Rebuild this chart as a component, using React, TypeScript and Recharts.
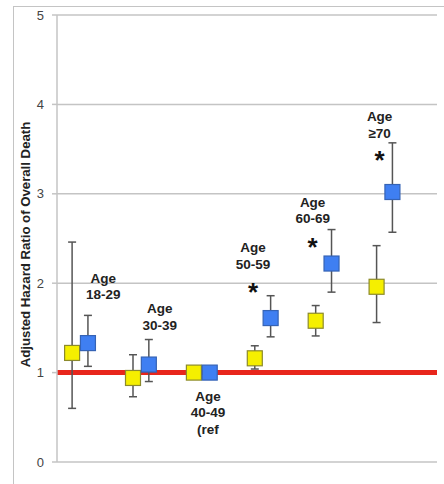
import {
  ComposedChart,
  Scatter,
  ErrorBar,
  XAxis,
  YAxis,
  CartesianGrid,
  ReferenceLine,
  ReferenceDot,
  Label,
} from "recharts";

const groups = ["18-29", "30-39", "40-49", "50-59", "60-69", "≥70"];
const yellowHr = [1.22, 0.94, 1.0, 1.16, 1.58, 1.96];
const yellowLo = [0.6, 0.73, 1.0, 1.04, 1.41, 1.56];
const yellowHi = [2.46, 1.2, 1.0, 1.3, 1.75, 2.42];
const blueHr = [1.33, 1.09, 1.0, 1.61, 2.22, 3.02];
const blueLo = [1.07, 0.9, 1.0, 1.4, 1.9, 2.57];
const blueHi = [1.64, 1.37, 1.0, 1.86, 2.6, 3.57];
const yTicks = [0, 1, 2, 3, 4, 5];

// label anchors (group index, value)
const ageLabels = [
  { x: 1.38, y: 2.06, lines: ["Age", "18-29"] },
  { x: 2.31, y: 1.72, lines: ["Age", "30-39"] },
  { x: 3.1, y: 0.74, lines: ["Age", "40-49", "(ref"] },
  { x: 3.84, y: 2.4, lines: ["Age", "50-59"] },
  { x: 4.82, y: 2.91, lines: ["Age", "60-69"] },
  { x: 5.92, y: 3.87, lines: ["Age", "≥70"] },
];
const stars = [
  { x: 3.84, y: 1.96 },
  { x: 4.82, y: 2.46 },
  { x: 5.92, y: 3.43 },
];

const OFFSET = 0.13;
const font = "'Liberation Sans', Arial, sans-serif";

const yellowData = groups.map((g, i) => ({
  x: i + 1 - OFFSET,
  y: yellowHr[i],
  err: [yellowHr[i] - yellowLo[i], yellowHi[i] - yellowHr[i]],
}));
const blueData = groups.map((g, i) => ({
  x: i + 1 + OFFSET,
  y: blueHr[i],
  err: [blueHr[i] - blueLo[i], blueHi[i] - blueHr[i]],
}));

const square = (fill: string, stroke: string) => (props: any) => {
  const { cx, cy } = props;
  return (
    <rect
      x={cx - 7.5}
      y={cy - 7.5}
      width={15}
      height={15}
      fill={fill}
      stroke={stroke}
      strokeWidth={1.2}
    />
  );
};

export default function App() {
  return (
    <div
      style={{
        position: "absolute",
        left: 0,
        top: 0,
        width: 444,
        height: 484,
        background: "#fff",
        overflow: "hidden",
        fontFamily: font,
      }}
    >
      <div
        style={{
          position: "absolute",
          left: 13,
          top: 6,
          width: 460,
          height: 500,
          borderLeft: "1.5px solid #c4c4c4",
          borderTop: "1.5px solid #c4c4c4",
        }}
      />
      <ComposedChart
        width={444}
        height={484}
        margin={{ top: 15, right: 7, bottom: 22, left: 0 }}
        style={{ position: "absolute", left: 0, top: 0 }}
      >
        <CartesianGrid vertical={false} stroke="#c4c4c4" strokeWidth={1.5} />
        <XAxis type="number" dataKey="x" domain={[0.622, 6.862]} hide />
        <YAxis
          type="number"
          domain={[0, 5]}
          ticks={yTicks}
          width={57}
          axisLine={{ stroke: "#c4c4c4", strokeWidth: 1.5 }}
          tickLine={{ stroke: "#c4c4c4", strokeWidth: 1.5 }}
          tickSize={5}
          tickMargin={8}
          tick={{ fill: "#444", fontSize: 13, fontFamily: font }}
        >
          <Label
            value="Adjusted Hazard Ratio of Overall Death"
            angle={-90}
            position="center"
            dx={-3}
            dy={6}
            style={{ fontSize: 13.2, fontWeight: "bold", fill: "#222", fontFamily: font }}
          />
        </YAxis>
        <ReferenceLine y={1} stroke="#e8261c" strokeWidth={5} />
        <Scatter
          data={yellowData}
          dataKey="y"
          isAnimationActive={false}
          shape={square("#f5ef00", "#8c8a2c")}
        >
          <ErrorBar dataKey="err" direction="y" width={4} stroke="#555" strokeWidth={1.5} />
        </Scatter>
        <Scatter
          data={blueData}
          dataKey="y"
          isAnimationActive={false}
          shape={square("#3f7ff2", "#3563b5")}
        >
          <ErrorBar dataKey="err" direction="y" width={4} stroke="#555" strokeWidth={1.5} />
        </Scatter>
        {ageLabels.map((l, i) => (
          <ReferenceDot
            key={"l" + i}
            x={l.x}
            y={l.y}
            r={0}
            shape={(p: any) => (
              <text
                x={p.cx}
                y={p.cy}
                textAnchor="middle"
                fontSize={13.5}
                fontWeight="bold"
                fill="#222"
                fontFamily={font}
              >
                {l.lines.map((t, j) => (
                  <tspan key={j} x={p.cx} dy={j === 0 ? 5 : 16.5}>
                    {t}
                  </tspan>
                ))}
              </text>
            )}
          />
        ))}
        {stars.map((s, i) => (
          <ReferenceDot
            key={"s" + i}
            x={s.x}
            y={s.y}
            r={0}
            shape={(p: any) => (
              <text
                x={p.cx}
                y={p.cy + 14}
                textAnchor="middle"
                fontSize={26}
                fontWeight="bold"
                fill="#111"
                fontFamily={font}
              >
                *
              </text>
            )}
          />
        ))}
      </ComposedChart>
    </div>
  );
}
